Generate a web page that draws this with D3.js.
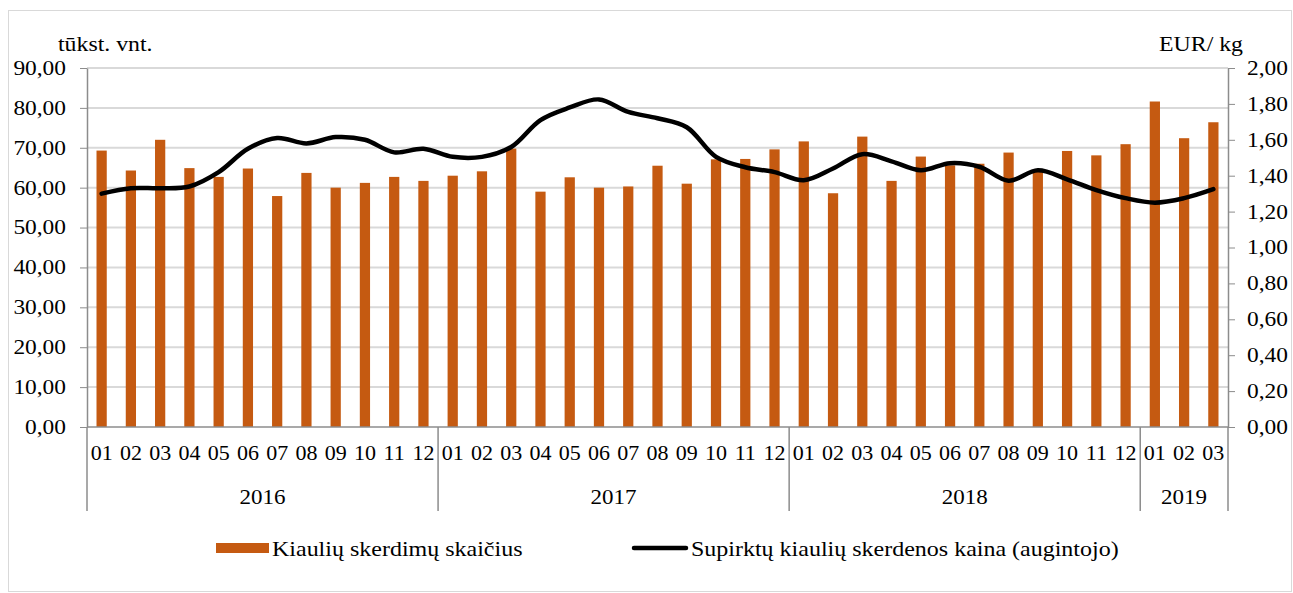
<!DOCTYPE html>
<html>
<head>
<meta charset="utf-8">
<script src="https://cdn.jsdelivr.net/npm/d3@7"></script>
<style>
  body { margin: 0; background: #fff; }
  svg text { font-family: "Liberation Serif", "DejaVu Serif", serif; fill: #000; }
</style>
</head>
<body>
<div id="chart"></div>
<script>
// data
var months = ["01","02","03","04","05","06","07","08","09","10","11","12",
              "01","02","03","04","05","06","07","08","09","10","11","12",
              "01","02","03","04","05","06","07","08","09","10","11","12",
              "01","02","03"];
var years = ["2016", "2017", "2018", "2019"];
var yearCounts = [12, 12, 12, 3];
var slaughter = [69.3, 64.3, 72.0, 64.9, 62.7, 64.8, 57.9, 63.7, 60.0, 61.2, 62.7, 61.7,
                 63.0, 64.1, 69.8, 59.0, 62.6, 60.0, 60.3, 65.5, 61.0, 67.1, 67.2, 69.6,
                 71.6, 58.6, 72.8, 61.7, 67.8, 65.6, 66.0, 68.8, 64.6, 69.2, 68.1, 70.9,
                 81.6, 72.4, 76.4];
var price = [1.30, 1.33, 1.33, 1.34, 1.42, 1.55, 1.61, 1.58, 1.615, 1.60, 1.53, 1.55,
             1.505, 1.505, 1.56, 1.71, 1.78, 1.825, 1.755, 1.72, 1.67, 1.505, 1.447, 1.42,
             1.375, 1.44, 1.52, 1.48, 1.43, 1.47, 1.45, 1.372, 1.43, 1.38, 1.32, 1.275,
             1.25, 1.275, 1.325];
var leftTicks = [0, 10, 20, 30, 40, 50, 60, 70, 80, 90];
var rightTicks = [0, 0.2, 0.4, 0.6, 0.8, 1.0, 1.2, 1.4, 1.6, 1.8, 2.0];

var W = 1293, H = 593;
var margin = {top: 68, right: 65, bottom: 166, left: 87};
var plotW = W - margin.left - margin.right,
    plotH = H - margin.top - margin.bottom;

// the original text is a bit wider than plain Times, so stretch it sideways
function stretch(sel, k) {
  sel.each(function() {
    var t = d3.select(this);
    var x0 = +t.attr("x") || 0;
    t.attr("x", x0 / k).attr("transform", "scale(" + k + ",1)");
  });
}

var svg = d3.select("#chart").append("svg")
    .attr("width", W)
    .attr("height", H);

// outer frame
svg.append("rect")
    .attr("x", 8.5).attr("y", 10.5)
    .attr("width", W - 10).attr("height", H - 12)
    .attr("fill", "none").attr("stroke", "#d9d9d9");

var g = svg.append("g")
    .attr("transform", "translate(" + margin.left + "," + margin.top + ")");

var idx = d3.range(months.length);
var x = d3.scaleBand().domain(idx).range([0, plotW]).padding(0);
var y = d3.scaleLinear().domain([0, 90]).range([plotH, 0]);
var y2 = d3.scaleLinear().domain([0, 2]).range([plotH, 0]);
var fmt = function(d) { return d.toFixed(2).replace(".", ","); };

// gridlines
g.selectAll(".grid").data(leftTicks.slice(1))
  .enter().append("line")
    .attr("x1", 0).attr("x2", plotW)
    .attr("y1", function(d) { return y(d); })
    .attr("y2", function(d) { return y(d); })
    .attr("stroke", "#d9d9d9").attr("stroke-width", 2);

// left axis
var yAxis = g.append("g")
    .call(d3.axisLeft(y).tickValues(leftTicks).tickFormat(fmt).tickSize(7).tickSizeOuter(0))
    .attr("font-family", null).attr("font-size", 20);
yAxis.select(".domain").attr("stroke", "#8c8c8c").attr("stroke-width", 1.5);
yAxis.selectAll(".tick line").attr("stroke", "#8c8c8c");
yAxis.selectAll("text").attr("x", -21).call(stretch, 1.17);

// right axis
var y2Axis = g.append("g")
    .attr("transform", "translate(" + plotW + ",0)")
    .call(d3.axisRight(y2).tickValues(rightTicks).tickFormat(fmt).tickSize(7).tickSizeOuter(0))
    .attr("font-family", null).attr("font-size", 20);
y2Axis.select(".domain").attr("stroke", "#8c8c8c").attr("stroke-width", 1.5);
y2Axis.selectAll(".tick line").attr("stroke", "#8c8c8c");
y2Axis.selectAll("text").attr("x", 19).call(stretch, 1.17);

// bars
var bw = x.bandwidth() * 0.35;
g.selectAll(".bar").data(slaughter)
  .enter().append("rect")
    .attr("x", function(d, i) { return x(i) + (x.bandwidth() - bw) / 2; })
    .attr("y", function(d) { return y(d); })
    .attr("width", bw)
    .attr("height", function(d) { return plotH - y(d); })
    .attr("fill", "#c55a11");

// price line
var line = d3.line()
    .x(function(d, i) { return x(i) + x.bandwidth() / 2; })
    .y(function(d) { return y2(d); })
    .curve(d3.curveCatmullRom.alpha(0.5));
g.append("path")
    .datum(price)
    .attr("d", line)
    .attr("fill", "none")
    .attr("stroke", "#000")
    .attr("stroke-width", 4.5)
    .attr("stroke-linecap", "round");

// category axis
g.append("line")
    .attr("x1", 0).attr("x2", plotW)
    .attr("y1", plotH).attr("y2", plotH)
    .attr("stroke", "#8c8c8c").attr("stroke-width", 1.5);

g.selectAll(".month").data(months)
  .enter().append("text")
    .attr("x", function(d, i) { return x(i) + x.bandwidth() / 2; })
    .attr("y", plotH + 33)
    .attr("text-anchor", "middle")
    .attr("font-size", 20)
    .text(function(d) { return d; })
    .call(stretch, 1.1);

var starts = [0];
yearCounts.forEach(function(c, i) { starts.push(starts[i] + c); });
g.selectAll(".sep").data(starts)
  .enter().append("line")
    .attr("x1", function(d) { return d < months.length ? x(d) : plotW; })
    .attr("x2", function(d) { return d < months.length ? x(d) : plotW; })
    .attr("y1", plotH).attr("y2", plotH + 84)
    .attr("stroke", "#8c8c8c").attr("stroke-width", 1.5);

g.selectAll(".year").data(years)
  .enter().append("text")
    .attr("x", function(d, i) {
      var a = x(starts[i]), b = starts[i + 1] < months.length ? x(starts[i + 1]) : plotW;
      return (a + b) / 2;
    })
    .attr("y", plotH + 77)
    .attr("text-anchor", "middle")
    .attr("font-size", 20)
    .text(function(d) { return d; })
    .call(stretch, 1.15);

// axis titles
svg.append("text").attr("x", 58).attr("y", 51)
    .attr("font-size", 20).text("tūkst. vnt.").call(stretch, 1.19);
svg.append("text").attr("x", 1243).attr("y", 51).attr("text-anchor", "end")
    .attr("font-size", 20).text("EUR/ kg").call(stretch, 1.19);

// legend
var leg = svg.append("g").attr("transform", "translate(0,548)");
leg.append("rect").attr("x", 216).attr("y", -5).attr("width", 53).attr("height", 10).attr("fill", "#c55a11");
leg.append("text").attr("x", 272).attr("y", 8).attr("font-size", 20)
    .text("Kiaulių skerdimų skaičius").call(stretch, 1.2);
leg.append("line").attr("x1", 634).attr("x2", 686).attr("y1", 0).attr("y2", 0)
    .attr("stroke", "#000").attr("stroke-width", 4.5).attr("stroke-linecap", "round");
leg.append("text").attr("x", 691).attr("y", 8).attr("font-size", 20)
    .text("Supirktų kiaulių skerdenos kaina (augintojo)").call(stretch, 1.2);
</script>
</body>
</html>
